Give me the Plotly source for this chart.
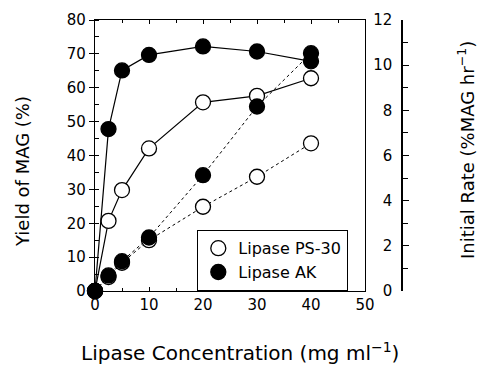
import plotly.graph_objects as go

# Lipase concentration (mg/ml)
conc = [0, 2.5, 5, 10, 20, 30, 40]

# Yield of MAG (%) - left axis
yield_ps30 = [0, 20.7, 29.8, 42.1, 55.7, 57.6, 62.8]
yield_ak = [0, 47.8, 65.1, 69.7, 72.2, 70.7, 67.8]

# Initial rate (%MAG/hr) - right axis
rate_ps30 = [0, 0.62, 1.25, 2.25, 3.73, 5.06, 6.54]
rate_ak = [0, 0.69, 1.32, 2.37, 5.13, 8.17, 10.53]

legend_names = ["Lipase PS-30", "Lipase AK"]

FONT = "DejaVu Sans"
MS = 15

# Plot geometry in pixels
W, H = 479, 367
ML, MR, MT, MB = 95, 10, 20, 76
PW = W - ML - MR
PH = H - MT - MB
x_frac = 270 / PW
y2_pos = (402 - ML) / PW


def px_x(p):
    return (p - ML) / PW


def px_y(p):
    return (H - MB - p) / PH


open_marker = dict(symbol="circle", size=MS, color="white", line=dict(color="black", width=1.3))
solid_marker = dict(symbol="circle", size=MS, color="black", line=dict(color="black", width=1.3))

fig = go.Figure()

# Rate curves (dashed, right axis)
fig.add_trace(go.Scatter(x=conc, y=rate_ps30, yaxis="y2", mode="lines+markers",
                         line=dict(color="black", width=1, dash="3px,3px"),
                         marker=open_marker, showlegend=False, cliponaxis=False))
# Yield curves (solid, left axis)
fig.add_trace(go.Scatter(x=conc, y=yield_ps30, mode="lines+markers",
                         line=dict(color="black", width=1.2),
                         marker=open_marker, showlegend=False, cliponaxis=False))
fig.add_trace(go.Scatter(x=conc, y=rate_ak, yaxis="y2", mode="lines+markers",
                         line=dict(color="black", width=1, dash="3px,3px"),
                         marker=solid_marker, showlegend=False, cliponaxis=False))
fig.add_trace(go.Scatter(x=conc, y=yield_ak, mode="lines+markers",
                         line=dict(color="black", width=1.2),
                         marker=solid_marker, showlegend=False, cliponaxis=False))

# Legend entries (markers only)
fig.add_trace(go.Scatter(x=[None], y=[None], mode="markers", name=legend_names[0],
                         marker=open_marker))
fig.add_trace(go.Scatter(x=[None], y=[None], mode="markers", name=legend_names[1],
                         marker=solid_marker))

tickfont = dict(family=FONT, size=15, color="black")

fig.update_layout(
    width=W, height=H, autosize=False,
    margin=dict(l=ML, r=MR, t=MT, b=MB, autoexpand=False),
    paper_bgcolor="white", plot_bgcolor="white",
    font=dict(family=FONT, color="black"),
    xaxis=dict(domain=[0, x_frac], range=[0, 50], dtick=10, automargin=False,
               showgrid=False, zeroline=False, showline=True, linecolor="black", linewidth=1.3,
               mirror="ticks", ticks="inside", ticklen=4, tickcolor="black",
               minor=dict(dtick=5, ticks="inside", ticklen=3, tickcolor="black"),
               tickfont=tickfont),
    yaxis=dict(range=[0, 80], dtick=10, automargin=False,
               showgrid=False, zeroline=False, showline=True, linecolor="black", linewidth=1.3,
               mirror=True, ticks="outside", ticklen=5, tickcolor="black",
               minor=dict(dtick=5, ticks="inside", ticklen=4, tickcolor="black"),
               tickfont=tickfont),
    yaxis2=dict(overlaying="y", side="left", anchor="free", position=y2_pos,
                range=[0, 12], dtick=2, automargin=False,
                showgrid=False, zeroline=False, showline=True, linecolor="black", linewidth=1.5,
                ticks="inside", ticklen=6, tickcolor="black", tickwidth=1.3, ticklabelstandoff=6,
                minor=dict(dtick=1, ticks="inside", ticklen=5, tickcolor="black"),
                tickfont=tickfont),
    legend=dict(x=px_x(197), y=px_y(230), xanchor="left", yanchor="top",
                bgcolor="white", bordercolor="black", borderwidth=1.3,
                font=dict(family=FONT, size=16, color="black"),
                itemwidth=30, tracegroupgap=0),
    annotations=[
        dict(text="Lipase Concentration (mg ml<sup>−1</sup>)", xref="paper", yref="paper",
             x=px_x(240), y=px_y(352), xanchor="center", yanchor="middle",
             showarrow=False, font=dict(family=FONT, size=20, color="black")),
        dict(text="Yield of MAG (%)", xref="paper", yref="paper", textangle=-90,
             x=px_x(22), y=px_y(172), xanchor="center", yanchor="middle",
             showarrow=False, font=dict(family=FONT, size=18, color="black")),
        dict(text="Initial Rate (%MAG hr<sup>−1</sup>)", xref="paper", yref="paper", textangle=-90,
             x=px_x(466), y=px_y(150), xanchor="center", yanchor="middle",
             showarrow=False, font=dict(family=FONT, size=18, color="black")),
    ],
)

fig.write_html("out.html")
